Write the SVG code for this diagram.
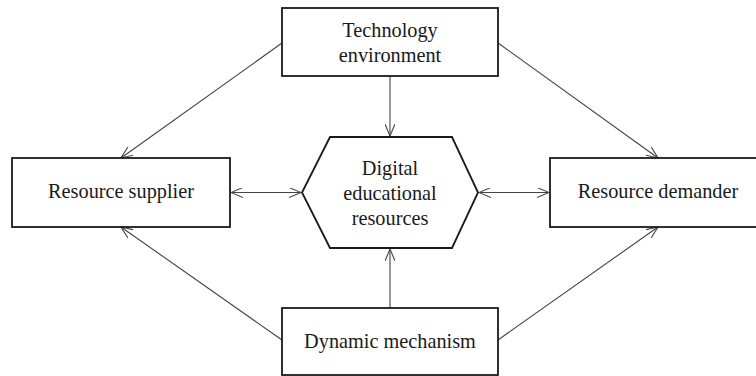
<svg xmlns="http://www.w3.org/2000/svg" width="756" height="376" viewBox="0 0 756 376">
<style>
.box{fill:#fff;stroke:#1a1a1a;stroke-width:1.8}
.t{font-family:"Liberation Serif","Times New Roman",serif;font-size:20.3px;fill:#1a1a1a;text-anchor:middle}
.c{stroke:#444;stroke-width:1.1;fill:none}
</style>
<defs>
<marker id="ah" viewBox="0 0 12 10" refX="12" refY="5" markerWidth="12" markerHeight="10" markerUnits="userSpaceOnUse" orient="auto-start-reverse">
<path d="M0,0 L12,5 L0,10" fill="none" stroke="#444" stroke-width="1.1"/>
</marker>
</defs>
<rect width="756" height="376" fill="#fff"/>
<g id="connectors">
<line class="c" x1="390" y1="76" x2="390" y2="136" marker-end="url(#ah)"/>
<line class="c" x1="390" y1="308" x2="390" y2="249" marker-end="url(#ah)"/>
<line class="c" x1="231" y1="192.5" x2="301" y2="192.5" marker-start="url(#ah)" marker-end="url(#ah)"/>
<line class="c" x1="479" y1="192.5" x2="549" y2="192.5" marker-start="url(#ah)" marker-end="url(#ah)"/>
<line class="c" x1="282" y1="43" x2="121" y2="158" marker-end="url(#ah)"/>
<line class="c" x1="498" y1="43" x2="658" y2="158" marker-end="url(#ah)"/>
<line class="c" x1="282" y1="340" x2="121" y2="227" marker-end="url(#ah)"/>
<line class="c" x1="498" y1="340" x2="658" y2="227" marker-end="url(#ah)"/>
</g>
<g id="technology">
<rect class="box" x="282" y="8" width="216" height="68"/>
<text class="t" x="390" y="37">Technology</text>
<text class="t" x="390" y="62">environment</text>
</g>
<g id="supplier">
<rect class="box" x="12" y="158" width="218" height="69"/>
<text class="t" x="121" y="198">Resource supplier</text>
</g>
<g id="demander">
<rect class="box" x="550" y="158" width="216" height="69"/>
<text class="t" x="658" y="198">Resource demander</text>
</g>
<g id="digital">
<polygon class="box" points="330,137 452,137 478,192.5 452,248 330,248 302,192.5"/>
<text class="t" x="390" y="175">Digital</text>
<text class="t" x="390" y="200">educational</text>
<text class="t" x="390" y="225">resources</text>
</g>
<g id="dynamic">
<rect class="box" x="282" y="308" width="216" height="67"/>
<text class="t" x="390" y="348">Dynamic mechanism</text>
</g>
</svg>
